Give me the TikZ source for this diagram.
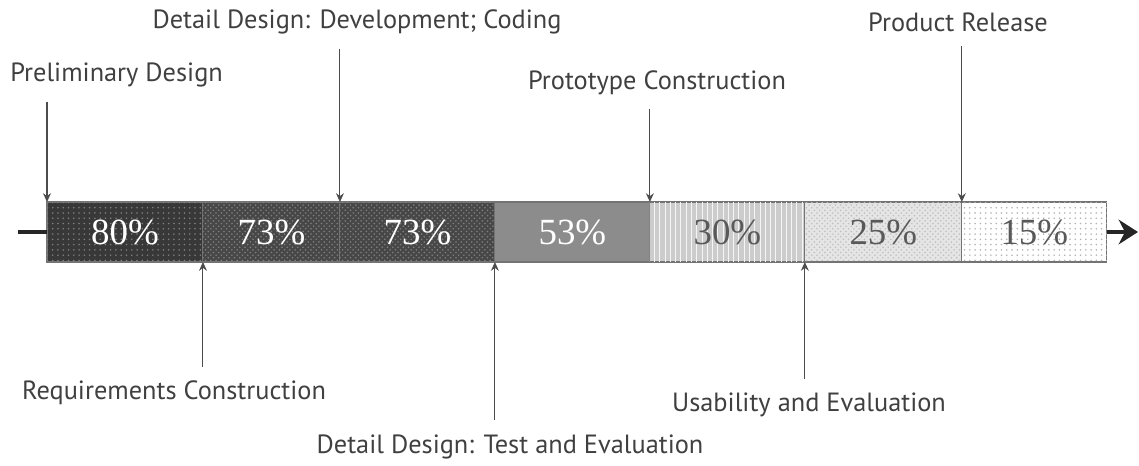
\documentclass[tikz,border=0pt]{standalone}
\usepackage{fontspec}
\setmainfont{Liberation Serif}
\newfontfamily\labelfont{PT Sans}
\usetikzlibrary{arrows.meta,positioning,patterns}

\begin{document}
\begin{tikzpicture}
[x=0.02cm,y=-0.02cm,
seg/.style={draw=black!55,line width=0.6pt,outer sep=0pt,minimum height=1.2cm,inner sep=0pt,font=\fontsize{21}{21}\selectfont},
darkseg/.style={seg,fill=black!78,text=white},
lightseg/.style={seg,text=black!65},
tag/.style={font=\labelfont\fontsize{15}{17}\selectfont,text=black!75,inner sep=0pt},
pointer/.style={draw=black!70,line width=0.6pt,shorten <=8pt,-{Stealth[length=5pt,width=4.5pt]}},
timeline/.style={draw=black!85,line width=2.4pt},
scale=1]
\useasboundingbox (0,0) rectangle (1139,466);

% the bar
\node[darkseg,minimum width=3.12cm,anchor=west,postaction={pattern=dots,pattern color=black!50}] (s80) at (47,232) {80\%};
\node[darkseg,fill=black!72,minimum width=2.74cm,right=0pt of s80,postaction={pattern=crosshatch dots,pattern color=black!50}] (s73a) {73\%};
\node[darkseg,fill=black!72,minimum width=3.1cm,right=0pt of s73a,postaction={pattern=crosshatch dots,pattern color=black!50}] (s73b) {73\%};
\node[darkseg,fill=black!45,minimum width=3.1cm,right=0pt of s73b] (s53) {53\%};
\node[lightseg,fill=black!20,minimum width=3.1cm,right=0pt of s53,postaction={pattern=vertical lines,pattern color=white!60!black!10}] (s30) {30\%};
\node[lightseg,fill=black!10,minimum width=3.14cm,right=0pt of s30,postaction={pattern=crosshatch dots,pattern color=black!25}] (s25) {25\%};
\node[lightseg,fill=white,minimum width=2.9cm,right=0pt of s25,postaction={pattern=dots,pattern color=black!30}] (s15) {15\%};

\coordinate (tstart) at (18,232);
\coordinate (tend) at (1138,232);
\draw[timeline] (tstart) -- (s80.west);
\draw[timeline,-{Stealth[length=11pt,width=14pt]}] (s15.east) -- (tend);

% labels above
\node[tag,anchor=west] (prelim) at (10,75) {Preliminary Design};
\node[tag] (develop) at (357,22) {Detail Design: Development; Coding};
\node[tag] (proto) at (657,83) {Prototype Construction};
\node[tag] (release) at (958,22) {Product Release};

% labels below
\node[tag] (require) at (174,393) {Requirements Construction};
\node[tag] (testeval) at (510,447) {Detail Design: Test and Evaluation};
\node[tag] (usability) at (809,405) {Usability and Evaluation};

\draw[pointer] (prelim.south -| s80.north west) -- (s80.north west);
\draw[pointer] (develop.south -| s73b.north west) -- (s73b.north west);
\draw[pointer] (proto.south -| s30.north west) -- (s30.north west);
\draw[pointer] (release.south -| s15.north west) -- (s15.north west);
\draw[pointer] (require.north -| s73a.south west) -- (s73a.south west);
\draw[pointer] (testeval.north -| s53.south west) -- (s53.south west);
\draw[pointer] (usability.north -| s25.south west) -- (s25.south west);
\end{tikzpicture}
\end{document}
